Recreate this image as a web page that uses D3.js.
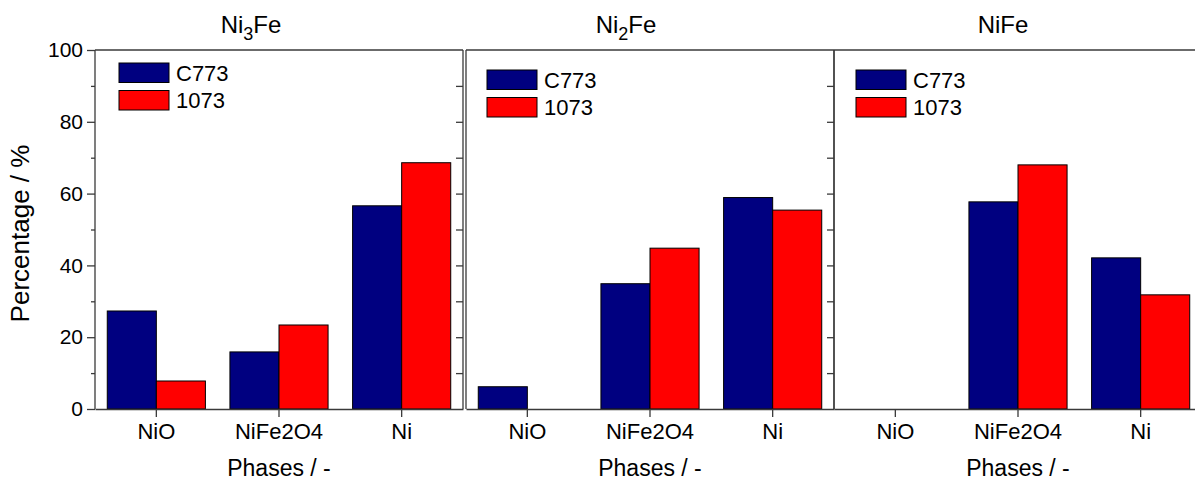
<!DOCTYPE html>
<html><head><meta charset="utf-8">
<script src="https://cdn.jsdelivr.net/npm/d3@7"></script>
<style>body{margin:0;background:#fff}svg{display:block;font-family:"Liberation Sans",Arial,sans-serif}</style>
</head><body>
<svg id="c" width="1195" height="480"></svg>
<script>
const panelNames = ["Ni3Fe", "Ni2Fe", "NiFe"];
const categories = ["NiO", "NiFe2O4", "Ni"];
const seriesNames = ["C773", "1073"];
const c773Values = [[27.3, 15.9, 56.6], [6.2, 34.9, 58.9], [0, 57.7, 42.1]];
const t1073Values = [[7.8, 23.4, 68.6], [0, 44.8, 55.4], [0, 68.0, 31.8]];
const yTicks = [0, 20, 40, 60, 80, 100];
const yMinorTicks = [10, 30, 50, 70, 90];
const xAxisTitle = "Phases / -";
const yAxisTitle = "Percentage / %";

const colors = ["#000080", "#ff0000"];
const axisColor = "#3a3a3a";
const svg = d3.select("#c");

const panelX = [95, 466, 834];
const panelW = 368;
const plotTop = 50, plotBottom = 409;
const titleX = [251, 626, 1003];
const legendOff = [[24, 63], [21, 70], [22, 70]];

const y = d3.scaleLinear().domain([0, 100]).range([plotBottom, plotTop]);

panelNames.forEach((pname, p) => {
  const x0 = panelX[p];
  const x = d3.scaleBand().domain(categories).range([x0, x0 + panelW]).paddingInner(0.2).paddingOuter(0.1);
  const xs = d3.scaleBand().domain(seriesNames).range([0, x.bandwidth()]);
  const g = svg.append("g");
  const vals = [c773Values[p], t1073Values[p]];

  seriesNames.forEach((s, si) => {
    g.selectAll(null).data(categories.map((c, ci) => ({c, v: vals[si][ci]})).filter(d => d.v > 0))
      .enter().append("rect")
      .attr("x", d => x(d.c) + xs(s))
      .attr("y", d => y(d.v))
      .attr("width", xs.bandwidth())
      .attr("height", d => y(0) - y(d.v))
      .attr("fill", colors[si])
      .attr("stroke", "#000").attr("stroke-width", 1);
  });

  g.append("line").attr("x1", x0).attr("x2", x0).attr("y1", plotTop).attr("y2", plotBottom).attr("stroke", axisColor).attr("stroke-width", 1.3);
  g.append("line").attr("x1", x0 + panelW).attr("x2", x0 + panelW).attr("y1", plotTop).attr("y2", plotBottom).attr("stroke", axisColor).attr("stroke-width", 1.3);
  g.append("line").attr("x1", x0).attr("x2", x0 + panelW).attr("y1", plotTop).attr("y2", plotTop).attr("stroke", axisColor).attr("stroke-width", 1.3);

  const xAxis = d3.axisBottom(x).tickSize(8).tickSizeOuter(0).tickPadding(6);
  const ax = g.append("g").attr("transform", `translate(0,${plotBottom})`).call(xAxis);
  ax.select(".domain").attr("stroke", axisColor).attr("stroke-width", 1.3);
  ax.selectAll(".tick line").attr("stroke", axisColor).attr("stroke-width", 1.3);
  ax.selectAll(".tick text").attr("font-size", 22).attr("fill", "#000").attr("font-family", "Liberation Sans, Arial, sans-serif").attr("dy", null).attr("y", 30);

  const rAxis = d3.axisLeft(y).tickValues(yTicks.concat(yMinorTicks).filter(v => v > 0 && v < 100)).tickSize(7).tickFormat("");
  const ra = g.append("g").attr("transform", `translate(${x0 + panelW},0)`).call(rAxis);
  ra.select(".domain").remove();
  ra.selectAll(".tick line").attr("stroke", axisColor).attr("stroke-width", 1.3);

  const t = g.append("text").attr("x", titleX[p]).attr("y", 33).attr("text-anchor", "middle").attr("font-size", 24).attr("fill", "#000");
  const parts = pname.match(/[A-Za-z]+|\d+/g);
  parts.forEach((part, i) => {
    if (/\d/.test(part)) {
      t.append("tspan").text(part).attr("font-size", 18).attr("dy", 7);
    } else {
      const ts = t.append("tspan").text(part);
      if (i > 0 && /\d/.test(parts[i - 1])) ts.attr("dy", -7);
    }
  });

  g.append("text").attr("x", x0 + panelW / 2).attr("y", 476).attr("text-anchor", "middle").attr("font-size", 23).attr("fill", "#000").text(xAxisTitle);

  const [lx, ly] = legendOff[p];
  seriesNames.forEach((s, si) => {
    g.append("rect").attr("x", x0 + lx).attr("y", ly + si * 27.5).attr("width", 50).attr("height", 19.5)
      .attr("fill", colors[si]).attr("stroke", "#000").attr("stroke-width", 1);
    g.append("text").attr("x", x0 + lx + 57).attr("y", ly + si * 27.5 + 17.5).attr("font-size", 22).attr("fill", "#000").text(s);
  });
});

const yAxis = d3.axisLeft(y).tickValues(yTicks).tickSize(8).tickPadding(4).tickFormat(d3.format("d"));
const ya = svg.append("g").attr("transform", `translate(${panelX[0]},0)`).call(yAxis);
ya.select(".domain").remove();
ya.selectAll(".tick line").attr("stroke", axisColor).attr("stroke-width", 1.3);
ya.selectAll(".tick text").attr("font-size", 21).attr("fill", "#000").attr("font-family", "Liberation Sans, Arial, sans-serif");
const yMinor = d3.axisLeft(y).tickValues(yMinorTicks).tickSize(4).tickFormat("");
const ym = svg.append("g").attr("transform", `translate(${panelX[0]},0)`).call(yMinor);
ym.select(".domain").remove();
ym.selectAll(".tick line").attr("stroke", axisColor).attr("stroke-width", 1.3);

svg.append("text").attr("transform", `translate(29,${(plotTop + plotBottom) / 2 + 4}) rotate(-90)`).attr("text-anchor", "middle")
  .attr("font-size", 26).attr("fill", "#000").text(yAxisTitle);
</script>
</body></html>
